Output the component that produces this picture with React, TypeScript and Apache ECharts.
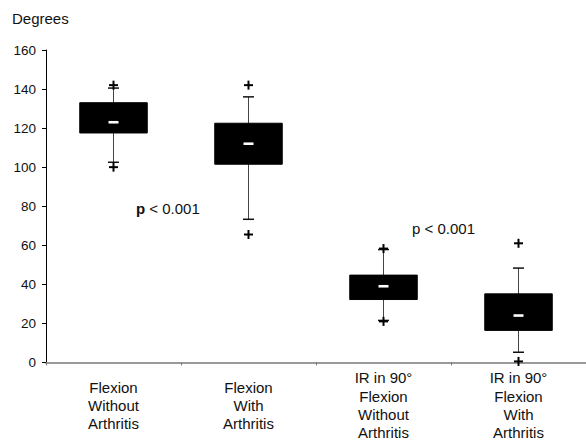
import React, { useEffect, useRef } from "react";
import * as echarts from "echarts";

const categories = [
  "Flexion\nWithout\nArthritis",
  "Flexion\nWith\nArthritis",
  "IR in 90°\nFlexion\nWithout\nArthritis",
  "IR in 90°\nFlexion\nWith\nArthritis",
];
// [lower whisker, Q1, median, Q3, upper whisker]
const boxStats = [
  [102.5, 117.5, 123, 133, 140.5],
  [73.3, 101.5, 112, 122.5, 136],
  [21.5, 32.2, 39, 44.7, 57.8],
  [5.2, 16.4, 24, 35.1, 48.3],
];
// outliers: [category index, value]
const outliers = [
  [0, 142],
  [0, 100],
  [1, 142],
  [1, 65.5],
  [2, 58.3],
  [2, 21],
  [3, 61],
  [3, 0.5],
];
const yTicks = { min: 0, max: 160, interval: 20 };

const FONT = "'Liberation Sans', Arial, sans-serif";

export default function App() {
  const ref = useRef<HTMLDivElement>(null);
  useEffect(() => {
    if (!ref.current) return;
    const chart = echarts.init(ref.current, null, { renderer: "svg" });
    const boxData = boxStats.map((s, i) => [i, ...s]);
    chart.setOption({
      animation: false,
      textStyle: { fontFamily: FONT },
      grid: { left: 46, right: 0, top: 50, bottom: 76, containLabel: false },
      xAxis: {
        type: "category",
        data: categories,
        boundaryGap: true,
        axisLine: { lineStyle: { color: "#9a9a9a", width: 2 } },
        axisTick: { show: true, length: 3, lineStyle: { color: "#777", width: 1 } },
        axisLabel: {
          interval: 0,
          color: "#111",
          fontSize: 15,
          fontFamily: FONT,
          lineHeight: 18.3,
          verticalAlign: "middle",
          margin: 43,
          align: "center",
        },
        splitLine: { show: false },
      },
      yAxis: {
        type: "value",
        min: yTicks.min,
        max: yTicks.max,
        interval: yTicks.interval,
        axisLine: { show: true, lineStyle: { color: "#000", width: 1 } },
        axisTick: { show: true, length: 4, lineStyle: { color: "#000" } },
        axisLabel: { color: "#111", fontSize: 13.5, fontFamily: FONT, margin: 10 },
        splitLine: { show: false },
      },
      graphic: [
        {
          type: "text",
          left: 12,
          top: 11,
          style: { text: "Degrees", fontSize: 15, fontFamily: FONT, fill: "#111" },
        },
        {
          type: "text",
          x: 136,
          y: 201,
          style: {
            text: "{b|p} < 0.001",
            fontSize: 15,
            fontFamily: FONT,
            fill: "#111",
            rich: { b: { fontWeight: "bold", fontSize: 15, fontFamily: FONT, fill: "#111" } },
          },
        },
        {
          type: "text",
          x: 412,
          y: 221,
          style: { text: "p < 0.001", fontSize: 15, fontFamily: FONT, fill: "#111" },
        },
      ],
      series: [
        {
          type: "custom",
          data: boxData,
          clip: false,
          renderItem: (params: any, api: any) => {
            const idx = api.value(0);
            const lo = api.coord([idx, api.value(1)]);
            const q1 = api.coord([idx, api.value(2)]);
            const med = api.coord([idx, api.value(3)]);
            const q3 = api.coord([idx, api.value(4)]);
            const hi = api.coord([idx, api.value(5)]);
            const band = api.size([1, 0])[0];
            const bw = band * 0.5;
            const cx = lo[0];
            const capW = 11;
            return {
              type: "group",
              children: [
                {
                  type: "line",
                  shape: { x1: cx, y1: hi[1], x2: cx, y2: lo[1] },
                  style: { stroke: "#444", lineWidth: 1 },
                },
                {
                  type: "line",
                  shape: { x1: cx - capW / 2, y1: hi[1], x2: cx + capW / 2, y2: hi[1] },
                  style: { stroke: "#111", lineWidth: 1.5 },
                },
                {
                  type: "line",
                  shape: { x1: cx - capW / 2, y1: lo[1], x2: cx + capW / 2, y2: lo[1] },
                  style: { stroke: "#111", lineWidth: 1.5 },
                },
                {
                  type: "rect",
                  shape: { x: cx - bw / 2, y: q3[1], width: bw, height: q1[1] - q3[1] },
                  style: { fill: "#000", stroke: "#000", lineWidth: 1 },
                },
                {
                  type: "rect",
                  shape: { x: cx - 5, y: med[1] - 1.3, width: 10, height: 2.6 },
                  style: { fill: "#fff" },
                },
              ],
            };
          },
          z: 2,
        },
        {
          type: "custom",
          data: outliers,
          clip: false,
          renderItem: (params: any, api: any) => {
            const p = api.coord([api.value(0), api.value(1)]);
            const h = 4.5;
            return {
              type: "group",
              children: [
                {
                  type: "line",
                  shape: { x1: p[0] - h, y1: p[1], x2: p[0] + h, y2: p[1] },
                  style: { stroke: "#000", lineWidth: 2 },
                },
                {
                  type: "line",
                  shape: { x1: p[0], y1: p[1] - h, x2: p[0], y2: p[1] + h },
                  style: { stroke: "#000", lineWidth: 2 },
                },
              ],
            };
          },
          z: 3,
        },
      ],
    });
    return () => chart.dispose();
  }, []);
  return (
    <div
      ref={ref}
      style={{ position: "fixed", left: 0, top: 0, width: 586, height: 442, background: "#fff" }}
    />
  );
}
